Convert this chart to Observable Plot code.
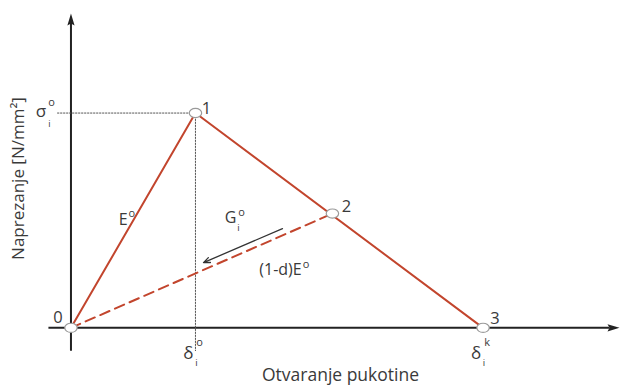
<!DOCTYPE html>
<html>
<head>
<meta charset="utf-8">
<script src="https://cdn.jsdelivr.net/npm/d3@7"></script>
<script src="https://cdn.jsdelivr.net/npm/@observablehq/plot@0.6"></script>
<style>
  html, body { margin: 0; padding: 0; background: #fff; }
  #chart svg { display: block; }
</style>
</head>
<body>
<div id="chart"></div>
<script>
// ---- data (normalised: δ_i^o = 1, σ_i^o = 1) ----
const pointIds    = ["0", "1", "2", "3"];
const pointX      = [0, 1, 2.1, 3.31];      // crack opening
const pointY      = [0, 1, 0.532, 0];       // stress
const solidPath   = [0, 1, 3];              // envelope 0 → 1 → 3
const dashedPath  = [0, 2];                 // unloading 2 → 0
const xLabel = "Otvaranje pukotine";
const yLabel = "Naprezanje [N/mm²]";

// ---- rendering ----
const W = 621, H = 386;
const FONT = "'Open Sans', sans-serif";
const RED = "#c2452d", INK = "#3a3a3a";

const pts = pointIds.map((id, i) => ({id, x: pointX[i], y: pointY[i]}));
const solid = solidPath.map(i => pts[i]);
const dashed = dashedPath.map(i => pts[i]);

const arrowHead = {
  draw(ctx) {
    ctx.moveTo(0, 0);
    ctx.lineTo(3.6, 12);
    ctx.lineTo(0, 10);
    ctx.lineTo(-3.6, 12);
    ctx.closePath();
  }
};
const ellipse = {
  draw(ctx) {
    const rx = 6.2, ry = 4.6, k = 0.5523;
    ctx.moveTo(rx, 0);
    ctx.bezierCurveTo(rx, ry * k, rx * k, ry, 0, ry);
    ctx.bezierCurveTo(-rx * k, ry, -rx, ry * k, -rx, 0);
    ctx.bezierCurveTo(-rx, -ry * k, -rx * k, -ry, 0, -ry);
    ctx.bezierCurveTo(rx * k, -ry, rx, -ry * k, rx, 0);
    ctx.closePath();
  }
};

const p1 = pts[1], p2 = pts[2], p3 = pts[3];
const xAxisEnd = 4.406, yAxisEnd = 1.463;
const labelOffsets = [[-13, -10], [11, -4], [14, -7], [12, -9]];

const txt = (data, opts) => Plot.text(data, {fontFamily: FONT, fill: INK, ...opts});

const marks = [
  // axes
  Plot.link([0], {x1: -0.181, x2: xAxisEnd - 0.08, y1: 0, y2: 0, stroke: "#222", strokeWidth: 2}),
  Plot.link([0], {x1: 0, x2: 0, y1: -0.106, y2: yAxisEnd - 0.04, stroke: "#222", strokeWidth: 2}),
  Plot.dot([0], {x: xAxisEnd, y: 0, symbol: arrowHead, rotate: 90, fill: "#222", stroke: null}),
  Plot.dot([0], {x: 0, y: yAxisEnd, symbol: arrowHead, rotate: 0, fill: "#222", stroke: null}),
  // dotted guides to point 1
  Plot.line([[-0.108, p1.y], [p1.x, p1.y], [p1.x, -0.106]], {
    stroke: "#555", strokeWidth: 1, strokeDasharray: "1.4,1.6"
  }),
  // curves
  Plot.line(solid, {x: "x", y: "y", stroke: RED, strokeWidth: 2}),
  Plot.line(dashed, {x: "x", y: "y", stroke: RED, strokeWidth: 2, strokeDasharray: "10,6"}),
  // unloading arrow
  Plot.arrow([0], {
    x1: p2.x * 0.809, y1: p2.y * 0.868, x2: p2.x * 0.507, y2: p2.y * 0.571,
    stroke: "#333", strokeWidth: 1.3, headLength: 8, headAngle: 45
  }),
  // nodes
  Plot.dot(pts, {x: "x", y: "y", symbol: ellipse, fill: "white", stroke: "#9a9a9a", strokeWidth: 1.2}),
  // node numbers
  ...pts.map((p, i) => txt([p], {x: "x", y: "y", text: "id", fontSize: 16.5,
    dx: labelOffsets[i][0], dy: labelOffsets[i][1]})),
  // σ_i^o
  txt([0], {x: 0, y: p1.y, text: () => "σ", fontSize: 17, dx: -30, dy: -2}),
  txt([0], {x: 0, y: p1.y, text: () => "i", fontSize: 9, dx: -21.5, dy: 11.5}),
  txt([0], {x: 0, y: p1.y, text: () => "o", fontSize: 11, dx: -19.5, dy: -11}),
  // δ_i^o and δ_i^k
  ...[p1, p3].flatMap((p, j) => [
    txt([p], {x: "x", y: 0, text: () => "δ", fontSize: 17, dx: -7, dy: 26}),
    txt([p], {x: "x", y: 0, text: () => "i", fontSize: 9.5, dx: 1, dy: 35}),
    txt([p], {x: "x", y: 0, text: () => (j === 0 ? "o" : "k"), fontSize: 11, dx: 4, dy: 15})
  ]),
  // E^o
  txt([0], {x: p1.x * 0.5, y: p1.y * 0.5, text: () => "E", fontSize: 16, dx: -10, dy: -1}),
  txt([0], {x: p1.x * 0.5, y: p1.y * 0.5, text: () => "o", fontSize: 11, dx: -1.5, dy: -7}),
  // G_i^o
  txt([0], {x: p1.x, y: p1.y * 0.5, text: () => "G", fontSize: 16, dx: 35, dy: -3}),
  txt([0], {x: p1.x, y: p1.y * 0.5, text: () => "o", fontSize: 11, dx: 46, dy: -8}),
  txt([0], {x: p1.x, y: p1.y * 0.5, text: () => "i", fontSize: 9.5, dx: 43, dy: 7}),
  // (1-d)E^o
  txt([0], {x: p2.x * 0.5, y: p2.y * 0.5, text: () => "(1-d)E", fontSize: 16, textAnchor: "end", dx: 100, dy: -1}),
  txt([0], {x: p2.x * 0.5, y: p2.y * 0.5, text: () => "o", fontSize: 11, textAnchor: "start", dx: 101, dy: -6}),
  // axis titles
  txt([xLabel], {frameAnchor: "bottom", text: d => d, fontSize: 17.5, textAnchor: "middle", dx: 29.5, dy: -11, lineAnchor: "middle"}),
  txt([yLabel], {frameAnchor: "left", text: d => d, fontSize: 17, rotate: -90, textAnchor: "middle", dx: 18, dy: -15, lineAnchor: "middle"})
];

const chart = Plot.plot({
  width: W, height: H,
  marginTop: 0, marginRight: 0, marginBottom: 0, marginLeft: 0,
  x: {domain: [-0.566, 4.422], axis: null},
  y: {domain: [-0.273, 1.524], axis: null},
  style: {background: "white", fontFamily: FONT},
  marks
});
document.getElementById("chart").append(chart);
</script>
</body>
</html>
